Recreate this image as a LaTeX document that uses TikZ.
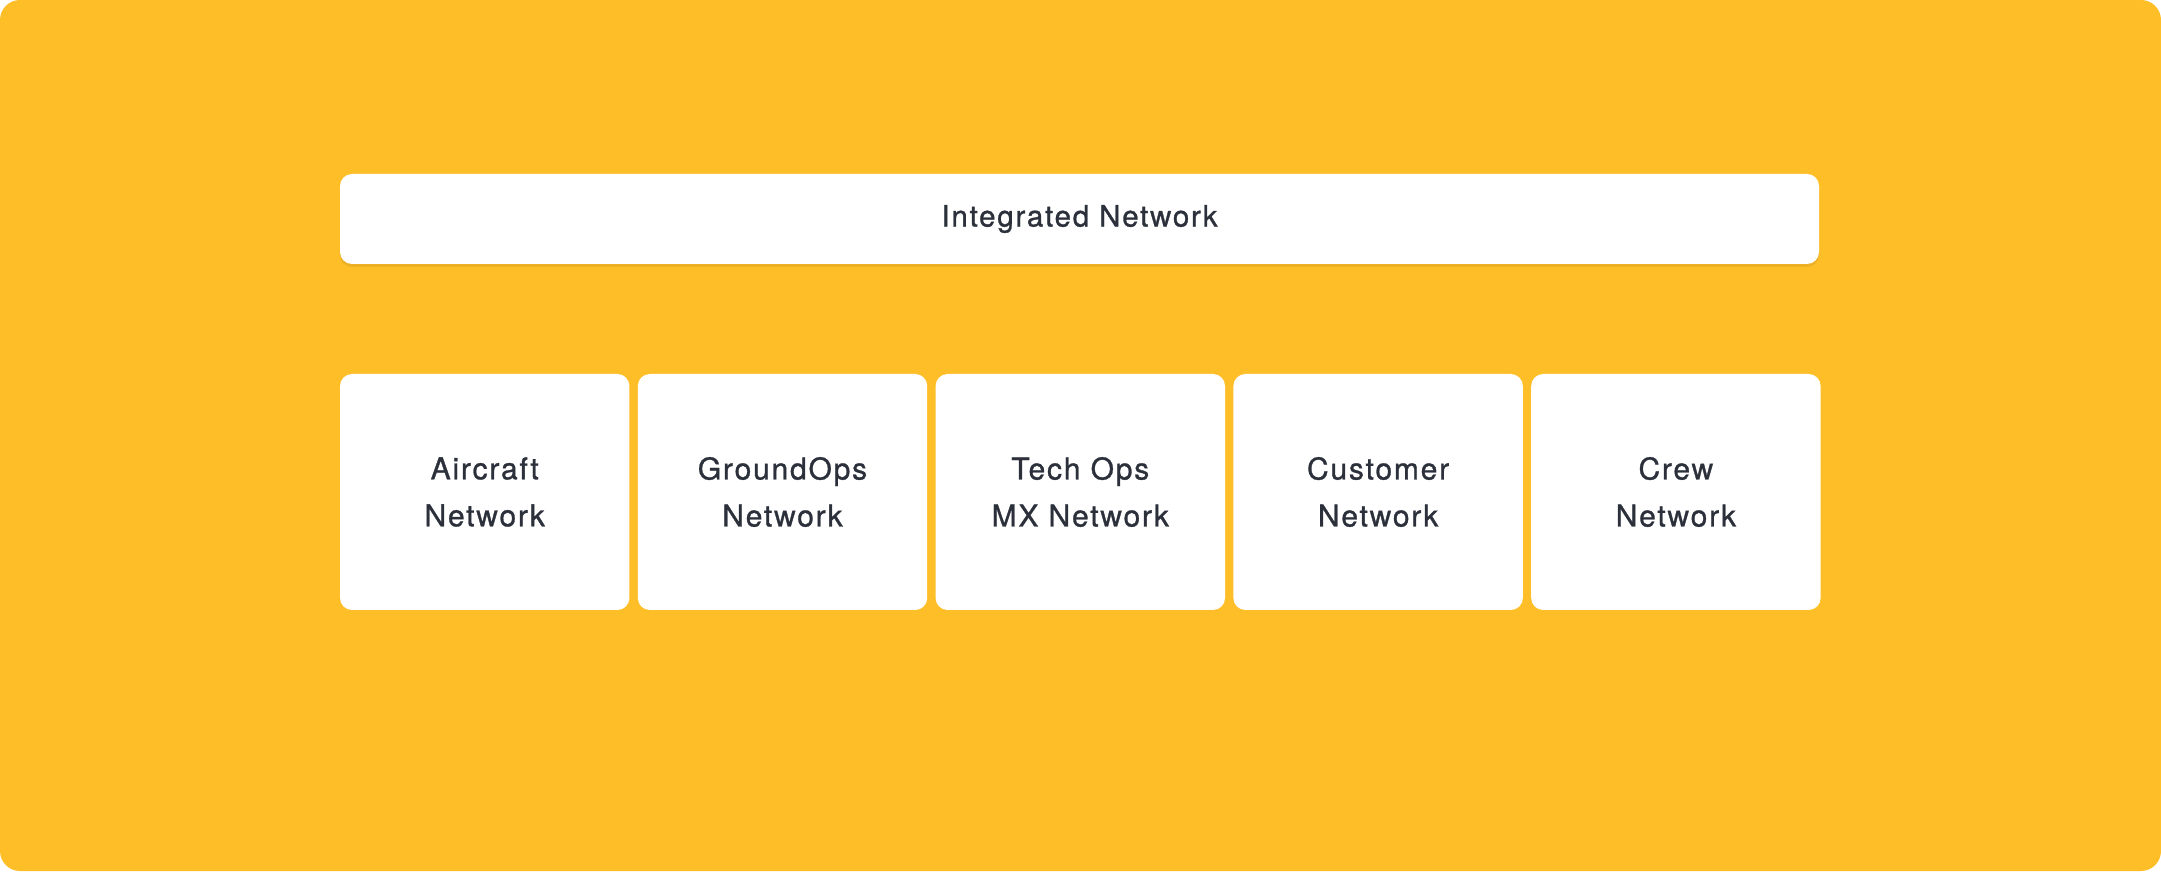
\documentclass[tikz,border=0pt]{standalone}
\usepackage{fontspec}
\setmainfont{TeX Gyre Heros}[LetterSpace=6,FakeBold=1]
\usepackage{xcolor}
\usetikzlibrary{positioning}
\usetikzlibrary{shadows}
\definecolor{bgyellow}{HTML}{FEBE27}
\definecolor{txtnavy}{HTML}{2B303B}
\newcommand{\netfont}{\fontsize{30}{47}\selectfont}
\newcommand{\topfont}{\fontsize{29.5}{34}\selectfont}

\begin{document}
\begin{tikzpicture}[x=1pt,y=1pt]
\tikzstyle{every node}=[text=txtnavy]
\tikzstyle{netbox}=[fill=white,rounded corners=12pt,minimum width=289.4pt,minimum height=236pt,align=center,inner sep=0pt,font=\netfont]
\useasboundingbox (0,0) rectangle (2161,871);
\fill[bgyellow,rounded corners=20pt] (0,0) rectangle (2161,871);
\node (integ) [fill=white,rounded corners=12pt,minimum width=1479pt,minimum height=90pt,inner sep=0pt,font=\topfont,
  drop shadow={shadow xshift=0pt,shadow yshift=-3pt,fill=black,opacity=0.07}] at (1079.5,652) {Integrated Network};
\node (aircraft) [netbox] at (484.7,379) {Aircraft\\Network};
\node (groundops) [netbox,right=8pt of aircraft] {GroundOps\\Network};
\node (techops) [netbox,right=8pt of groundops] {Tech Ops\\MX Network};
\node (customer) [netbox,right=8pt of techops] {Customer\\Network};
\node (crew) [netbox,right=8pt of customer] {Crew\\Network};
\end{tikzpicture}
\end{document}
